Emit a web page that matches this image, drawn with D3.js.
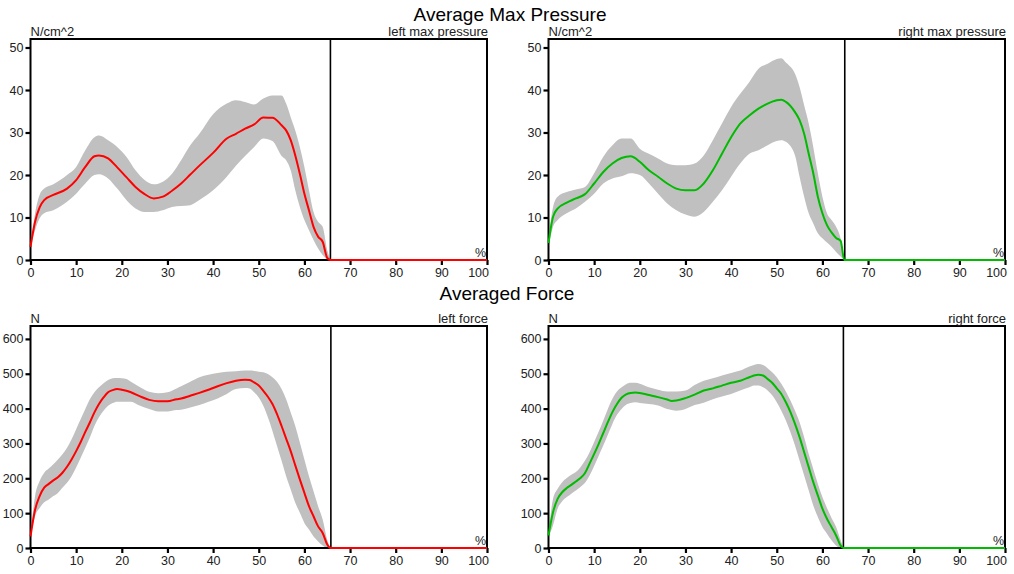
<!DOCTYPE html>
<html><head><meta charset="utf-8">
<script src="https://cdn.jsdelivr.net/npm/d3@7"></script>
<style>
html,body{margin:0;padding:0;background:#fff;}
svg text{font-family:"Liberation Sans",Arial,sans-serif;}
</style></head>
<body><svg id="c" width="1014" height="574"></svg>
<script>
// ---------- DATA ----------
const sectionTitles = ["Average Max Pressure", "Averaged Force"];
const panelNames = ["left max pressure", "right max pressure", "left force", "right force"];
const unitLabels = ["N/cm^2", "N/cm^2", "N", "N"];
const xTicks = [0,10,20,30,40,50,60,70,80,90,100];
const pressureTicks = [0,10,20,30,40,50];
const forceTicks = [0,100,200,300,400,500,600];
const dividerPct = [65.7, 64.9, 65.8, 64.6];

// left max pressure (N/cm^2)
const lpX = [0,1,2,3,5,8,10,12,14,15,17,19,21,23,25,27,29,31,33,35,37,40,43,45,47,49,51,53,55,56,57,58,59,60,61,62,63,64,65,65.7];
const lpMean = [3.1,9,12.4,14.1,15.3,16.8,18.8,21.9,24.4,24.6,23.9,21.8,19.5,17.2,15.5,14.5,14.9,16.3,18.0,20.1,22.2,25.2,28.6,29.7,30.9,31.9,33.5,33.5,31.7,30.5,28.2,24.6,20.3,15.6,11.7,7.8,5.5,4.3,0.5,0];
const lpUpper = [3.1,11,15.3,16.8,17.8,20.0,21.9,25.8,28.9,29.3,28.2,26.6,24.3,21.1,18.8,17.8,18.4,20.3,23.5,27.0,29.7,34.3,36.8,37.6,37.2,36.6,38.0,38.7,38.7,36.8,33.6,30.5,26.6,21.9,16.4,11.3,9.0,7.8,2.3,0];
const lpLower = [3.1,7,9.8,11.0,11.7,13.7,15.6,18.0,20.0,20.2,19.2,16.8,14.1,12.1,11.3,11.3,11.7,12.5,12.7,12.9,14.1,16.4,19.6,22.2,24.5,26.6,28.6,28.0,24.5,23.5,21.1,16.4,12.5,9.4,7.0,4.7,2.7,1.2,0.2,0];

// right max pressure (N/cm^2)
const rpX = [0,1,2,4,6,8,10,12,14,16,18,20,22,24,26,28,30,32,34,36,38,40,42,44,46,48,50,51,52,54,55,56,57,58,59,60,61,62,63,64,64.8];
const rpMean = [4.0,10.2,12.1,13.5,14.5,15.5,18.0,20.7,22.7,24.0,24.4,23.1,21.1,19.6,18.0,16.8,16.4,16.4,18.0,21.1,25.0,28.9,32.1,34.0,35.6,36.8,37.6,37.7,37.2,34.8,32.9,29.7,25.0,20.4,14.9,11.0,8.2,6.5,5.2,4.5,0];
const rpUpper = [5.0,12.5,14.9,16.0,16.6,17.2,20.4,24.3,27.0,28.6,28.6,26.2,25.0,23.9,22.7,22.3,22.3,22.7,24.6,28.2,32.1,36.0,39.1,41.9,45.0,46.2,47.3,47.5,46.5,43.8,40.7,36.4,32.1,26.6,20.4,14.9,11.0,9.4,7.8,5.0,0];
const rpLower = [3.0,7.8,9.4,11.0,12.1,13.7,15.6,18.0,19.2,19.7,20.4,20.0,18.0,15.6,13.3,11.7,10.7,10.2,11.3,13.7,16.4,19.6,22.7,25.0,25.8,27.0,28.0,28.2,27.8,24.6,19.6,14.9,11.0,8.6,6.3,5.1,4.1,3.1,1.9,0.8,0];

// left force (N)
const lfX = [0,1,2,3,4,5,6,7,8,9,10,11,12,13,14,15,16,17,18,19,20,21,22,24,26,28,30,32,33,35,37,39,41,43,45,47,48,49,50,51,52,53,54,55,56,57,58,59,60,61,62,63,64,65,65.7];
const lfMean = [33,110,149,173,184,194,203,216,233,254,278,304,333,360,389,413,432,447,453,456,454,451,447,435,425,421,421,427,429,437,445,454,464,473,480,483,482,475,466,451,434,413,384,350,314,278,237,197,158,120,91,62,43,10,0];
const lfUpper = [33,149,192,216,228,240,254,269,288,312,341,370,399,427,447,461,473,482,487,488,487,485,477,461,448,444,447,458,464,477,490,497,502,506,507,509,509,508,506,504,499,490,477,456,427,389,350,303,254,206,163,120,82,24,0];
const lfLower = [30,91,115,131,139,149,158,173,187,206,231,259,288,317,350,375,394,408,416,420,420,420,420,408,399,392,392,396,397,403,410,420,429,442,456,459,458,447,432,408,375,336,293,250,206,168,130,101,72,53,33,19,7,0,0];

// right force (N)
const rfX = [0,1,2,3,4,5,6,7,8,9,10,11,12,13,14,15,16,17,18,19,20,22,24,26,27,28,30,32,34,36,38,40,42,44,45,46,47,48,49,50,51,52,53,54,55,56,57,58,59,60,61,62,63,64,64.6];
const rfMean = [36,103,141,160,172,181,191,201,215,242,270,299,330,361,390,413,431,441,445,446,445,439,433,426,422,423,430,440,452,458,466,474,480,490,495,497,495,485,474,458,442,418,390,356,318,275,232,189,151,113,84,60,36,7,0];
const rfUpper = [40,141,170,189,201,210,218,232,251,275,304,334,366,399,428,449,461,470,474,474,471,461,454,449,449,449,452,468,480,487,495,502,509,521,525,528,525,516,504,490,471,449,423,394,361,318,270,227,184,146,115,86,60,22,0];
const rfLower = [32,65,113,134,146,156,165,175,187,208,235,265,294,325,356,382,399,411,416,418,416,413,409,399,396,394,399,410,417,427,435,442,452,461,466,466,461,452,438,418,394,366,332,294,251,208,165,122,89,60,41,22,7,0,0];

// ---------- LAYOUT ----------
const svg = d3.select("#c");
const font = '"Liberation Sans",Arial,sans-serif';
const colors = ["#ff0000", "#00bb00", "#ff0000", "#00bb00"];
const series = [
  {x: lpX, m: lpMean, u: lpUpper, l: lpLower},
  {x: rpX, m: rpMean, u: rpUpper, l: rpLower},
  {x: lfX, m: lfMean, u: lfUpper, l: lfLower},
  {x: rfX, m: rfMean, u: rfUpper, l: rfLower}
];
const frames = [
  {x0: 30.5, x1: 487, y0: 260, y1: 39, yMax: 52, ticks: pressureTicks},
  {x0: 548.5, x1: 1005, y0: 260, y1: 39, yMax: 52, ticks: pressureTicks},
  {x0: 30.5, x1: 487, y0: 548, y1: 326, yMax: 637, ticks: forceTicks},
  {x0: 548.5, x1: 1005, y0: 548, y1: 326, yMax: 637, ticks: forceTicks}
];

svg.append("text").attr("x", 510).attr("y", 21).attr("text-anchor", "middle")
  .attr("font-size", 19).attr("fill", "#000").text(sectionTitles[0]);
svg.append("text").attr("x", 507).attr("y", 300).attr("text-anchor", "middle")
  .attr("font-size", 19).attr("fill", "#000").text(sectionTitles[1]);

frames.forEach((f, i) => {
  const s = series[i];
  const x = d3.scaleLinear().domain([0, 100]).range([f.x0, f.x1]);
  const y = d3.scaleLinear().domain([0, f.yMax]).range([f.y0, f.y1]);
  const g = svg.append("g");

  // band
  const pts = s.x.map((v, k) => ({x: v, m: s.m[k], u: s.u[k], l: s.l[k]}));
  g.append("path").datum(pts)
    .attr("d", d3.area().x(d => x(d.x)).y0(d => y(d.l)).y1(d => y(d.u)).curve(d3.curveMonotoneX))
    .attr("fill", "#c0c0c0").attr("stroke", "none");

  // frame
  g.append("line").attr("x1", f.x0).attr("x2", f.x1).attr("y1", f.y1).attr("y2", f.y1)
    .attr("stroke", "#000").attr("stroke-width", 2);
  g.append("line").attr("x1", f.x1).attr("x2", f.x1).attr("y1", f.y1 - 1).attr("y2", f.y0)
    .attr("stroke", "#000").attr("stroke-width", 2);
  g.append("line").attr("x1", f.x0).attr("x2", f.x0).attr("y1", f.y1 - 1).attr("y2", f.y0 + 1)
    .attr("stroke", "#000").attr("stroke-width", 2);
  g.append("line").attr("x1", f.x0 - 1).attr("x2", f.x1 + 1).attr("y1", f.y0).attr("y2", f.y0)
    .attr("stroke", "#000").attr("stroke-width", 2);
  // divider
  g.append("line").attr("x1", x(dividerPct[i])).attr("x2", x(dividerPct[i]))
    .attr("y1", f.y1).attr("y2", f.y0).attr("stroke", "#000").attr("stroke-width", 1.6);

  // axes
  const ya = g.append("g").attr("transform", `translate(${f.x0},0)`)
    .call(d3.axisLeft(y).tickValues(f.ticks).tickSize(5).tickPadding(2));
  const xa = g.append("g").attr("transform", `translate(0,${f.y0})`)
    .call(d3.axisBottom(x).tickValues(xTicks).tickSize(5).tickPadding(3));
  [ya, xa].forEach(a => {
    a.select(".domain").remove();
    a.selectAll(".tick line").attr("stroke", "#000").attr("stroke-width", 2.2);
    a.selectAll(".tick text").attr("font-size", 12.5).attr("font-family", font).attr("fill", "#222");
  });
  // last x label is right-aligned to its tick, as in the reference
  xa.selectAll(".tick").filter(d => d === 100).select("text")
    .attr("text-anchor", "end").attr("x", 1.5);

  // mean line (continues along zero to 100%)
  const linePts = s.x.map((v, k) => [v, s.m[k]]).concat([[100, 0]]);
  g.append("path").datum(linePts)
    .attr("d", d3.line().x(d => x(d[0])).y(d => y(d[1])).curve(d3.curveMonotoneX))
    .attr("fill", "none").attr("stroke", colors[i]).attr("stroke-width", 2);

  // labels
  g.append("text").attr("x", f.x0).attr("y", f.y1 - 3).attr("font-size", 13)
    .attr("fill", "#222").text(unitLabels[i]);
  g.append("text").attr("x", f.x1 + 1).attr("y", f.y1 - 3).attr("font-size", 13)
    .attr("text-anchor", "end").attr("fill", "#222").text(panelNames[i]);
  g.append("text").attr("x", f.x1 - 1).attr("y", f.y0 - 3).attr("font-size", 12.5)
    .attr("text-anchor", "end").attr("fill", "#222").text("%");
});
</script></body></html>
